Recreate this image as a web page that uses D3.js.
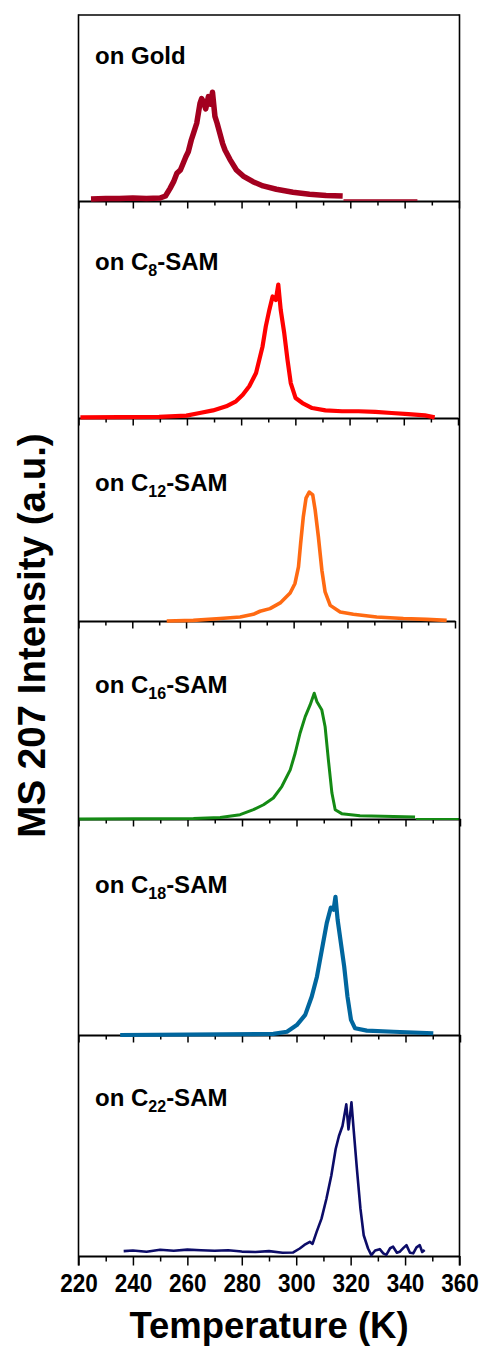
<!DOCTYPE html>
<html><head><meta charset="utf-8">
<script src="https://cdn.jsdelivr.net/npm/d3@7"></script>
<style>
body{margin:0;background:#fff}
text{font-family:"Liberation Sans",Arial,Helvetica,sans-serif;font-weight:bold;fill:#000}
</style>
</head><body>
<svg id="chart" width="483" height="1349"></svg>
<script>
// ---------- data ----------
const xMajorTicks = [220,240,260,280,300,320,340,360];
const xMinorTicks = [230,250,270,290,310,330,350];
const seriesNames = ["Gold","C8","C12","C16","C18","C22"];
const seriesSubs  = [null,"8","12","16","18","22"];
const seriesColors = ["#a3001f","#ff0000","#ff6a12","#148a14","#00669e","#0c0c68"];

const goldT = [224.6,230,235,240,245,250,252,253.7,255,256.2,257.5,258.6,259.5,260.4,261.5,262.3,263.5,264.7,265.3,265.9,266.8,267.8,268.5,269.3,270.2,271,272,273,273.9,275.7,278.1,280.6,284.2,287.9,292.8,298.9,305,311.1,317.2];
const goldI = [1.1,1.4,1.3,1.6,1.3,1.6,2.7,6.8,10.4,14.9,16.7,20.6,23.8,26.5,32.8,36.4,41.8,52.5,55.0,53.5,49.5,56.1,52.0,58.5,45.5,41.8,36.4,31.0,27.4,22.4,16.7,13.4,10.4,8.1,6.3,4.7,3.6,3.0,2.7];
const goldTailT = [317.5,344.7];
const goldTailI = [0.5,0.5];

const c8T = [220.7,249.7,259.8,264.7,269.6,274.5,278.1,280.6,283,285.5,286.7,287.9,289.1,290.4,291.6,292.8,293.7,294.6,295.9,297.1,298.3,300.1,302.6,306.2,311.1,317.2,323.3,329.5,335.5,341.7,347.8,351.4];
const c8I = [0.3,0.5,1.1,2.3,3.5,5.4,7.7,10.7,14.6,20.7,26.8,33.0,42.2,49.8,56.0,54.4,61.5,49.8,39.1,26.8,16.1,9.2,6.9,4.6,3.5,3.1,3.1,2.8,2.3,1.8,1.2,0.3];

const c12T = [252.8,262.7,272.7,280.1,285,287.5,291.2,295,298.7,300.5,301.8,302.6,303.6,304.6,305.8,307.1,308,309.2,310.5,311.7,313.6,317.3,322.2,330.9,340.8,349.5,356.9];
const c12I = [0,0.3,1.2,2.0,3.3,4.8,6.1,8.9,13.8,18.5,26.7,38.2,51.4,60.5,63.5,62.1,54.7,41.5,25.0,14.3,7.7,4.4,3.3,2.0,1.2,0.8,0.3];

const c16T = [220,262.2,272,279.3,284.2,287.9,291.5,294.6,297.7,299.5,301.3,303.2,305,306.5,307.5,309.3,310.5,311.7,313,314.2,316.6,323.3,335.6,343.5];
const c16I = [0,0.2,0.8,2.2,4.7,7.2,10.6,16.4,24.8,33.2,43.3,51.7,57.6,63.5,59.2,55.0,46.6,29.9,13.1,4.7,2.7,1.7,1.3,1.0];
const c16TailT = [343.8,360];
const c16TailI = [0,0];

const c18T = [235.3,291.5,296.5,300.1,303.2,305.6,307.5,309.3,311.1,312.6,313.6,314.3,315.1,316.3,317.5,318.7,320,321.5,325.8,335.6,350.2];
const c18I = [0,0.5,1.5,4.6,9.3,17.8,27.0,39.4,51.8,59.0,58.0,64.0,53.3,42.5,31.7,17.8,7.0,3.1,2.0,1.5,0.8];

const c22T = [236.6,240,245,250,255,260,265,270,275,280,285,290,295,298.9,301.3,303,305,306,307.5,309.3,311.1,312.9,314.5,315.7,317,318.4,319.2,320.3,321.1,322.3,323.6,324.8,326.4,327.6,329,330.7,332,333.1,334.5,335.6,337,338,339.5,340.5,341.8,343,344.2,345.4,346.3,347.2];
const c22I = [2.2,2.5,1.9,2.8,2.4,2.9,2.6,2.4,2.6,2.0,1.8,2.2,1.5,1.6,3.4,5.0,6.4,5.5,10.9,16.9,25.9,36.4,48.4,54.3,58.8,68.6,57.3,69.5,57.3,39.4,21.4,9.4,3.4,0.4,2.5,3.1,1.2,0.5,3.5,4.2,1.5,1.9,3.8,4.9,1.5,1.2,3.9,4.9,1.8,2.7];

// ---------- layout ----------
const xLeft = 78.5;
const frameRight = 459.5;
const panelTop    = [15,201,418,621,819,1035];
const panelBottom = [201,418,621,819,1035,1256];
const panelRight  = [459,458,455,460,460,459.5];
const labelDy     = [49,69,73,72,74,71];

const seriesData = [
  [{t:goldT,v:goldI,w:5.5},{t:goldTailT,v:goldTailI,w:1.6}],
  [{t:c8T,v:c8I,w:4.2}],
  [{t:c12T,v:c12I,w:3.6}],
  [{t:c16T,v:c16I,w:3.0},{t:c16TailT,v:c16TailI,w:2.2}],
  [{t:c18T,v:c18I,w:4.2}],
  [{t:c22T,v:c22I,w:2.6}]
];

const svg = d3.select("#chart");

seriesNames.forEach((name,i)=>{
  const x = d3.scaleLinear().domain([220,360]).range([xLeft,panelRight[i]]);
  const y = d3.scaleLinear().domain([0,100]).range([panelBottom[i],panelTop[i]]);
  const g = svg.append("g");
  const last = i===seriesNames.length-1;

  const minor = g.append("g").attr("transform",`translate(0,${panelBottom[i]})`)
    .call(d3.axisBottom(x).tickValues(xMinorTicks).tickSize(last?5.5:4.5).tickSizeOuter(0).tickFormat(""));
  minor.select(".domain").remove();
  const major = g.append("g").attr("transform",`translate(0,${panelBottom[i]})`)
    .call(d3.axisBottom(x).tickValues(xMajorTicks).tickSize(last?9.5:7.5).tickSizeOuter(0)
      .tickPadding(8.5).tickFormat(last?d3.format("d"):""));
  major.select(".domain").attr("stroke-width",1.8);
  g.selectAll(".tick line").attr("stroke","#000").attr("stroke-width",1.5);
  major.selectAll("text").style("font-size","25px").attr("font-family",null)
    .attr("transform","scale(0.9,1)");

  const line = d3.line().x(d=>x(d[0])).y(d=>y(d[1]));
  seriesData[i].forEach(s=>{
    const pts = s.t.map((t,k)=>[t,s.v[k]]);
    g.append("path").datum(pts).attr("d",line)
      .attr("fill","none").attr("stroke",seriesColors[i])
      .attr("stroke-width",s.w).attr("stroke-linejoin","round");
  });

  const txt = g.append("text").attr("x",95).attr("y",panelTop[i]+labelDy[i]).style("font-size","24px");
  if(seriesSubs[i]===null){
    txt.text("on "+name);
  } else {
    txt.append("tspan").text("on C");
    txt.append("tspan").attr("dy",6).style("font-size","16px").text(seriesSubs[i]);
    txt.append("tspan").attr("dy",-6).text("-SAM");
  }
});

// frame
svg.append("line").attr("x1",xLeft).attr("x2",frameRight).attr("y1",panelTop[0]).attr("y2",panelTop[0])
  .attr("stroke","#000").attr("stroke-width",1.6);
svg.append("line").attr("x1",xLeft).attr("x2",xLeft).attr("y1",panelTop[0]-0.8).attr("y2",panelBottom[5]+9.5)
  .attr("stroke","#000").attr("stroke-width",1.6);
svg.append("line").attr("x1",frameRight).attr("x2",frameRight).attr("y1",panelTop[0]-0.8).attr("y2",panelBottom[5]+9.5)
  .attr("stroke","#000").attr("stroke-width",1.6);

// axis titles
svg.append("text").attr("x",(xLeft+frameRight)/2).attr("y",1338).attr("text-anchor","middle")
  .style("font-size","36.5px").text("Temperature (K)");
svg.append("text").attr("transform",`translate(45,${(panelTop[0]+panelBottom[5])/2}) rotate(-90)`)
  .attr("text-anchor","middle").style("font-size","38.5px").text("MS 207 Intensity (a.u.)");
</script>
</body></html>
